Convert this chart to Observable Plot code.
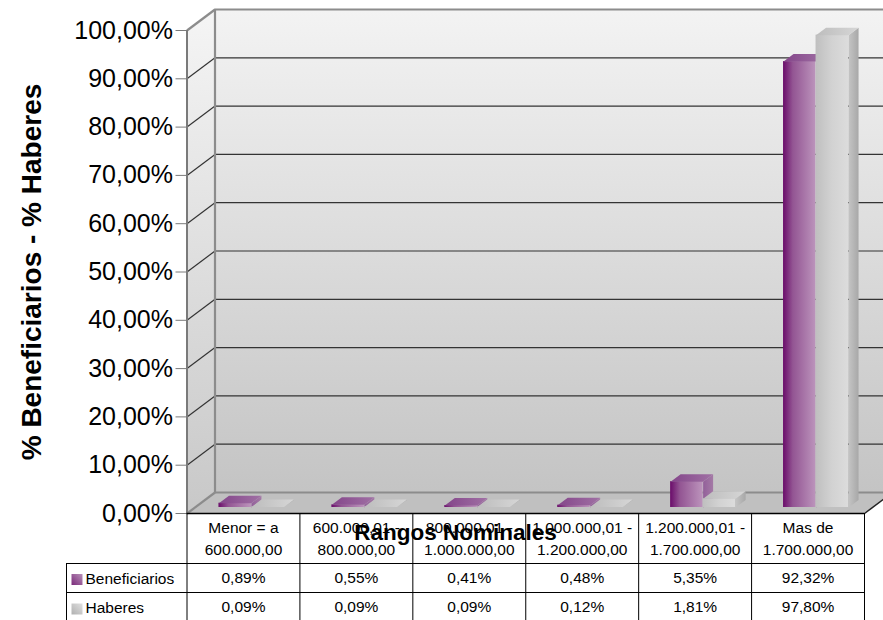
<!DOCTYPE html>
<html>
<head>
<meta charset="utf-8">
<script src="https://cdn.jsdelivr.net/npm/d3@7"></script>
<script src="https://cdn.jsdelivr.net/npm/@observablehq/plot@0.6"></script>
<style>
  html, body { margin: 0; padding: 0; background: #fff; overflow: hidden; }
  #chart svg { display: block; }
</style>
</head>
<body>
<div id="chart"></div>
<script>
// ---- data ----
const rangeLine1 = ["Menor = a", "600.000,01 -", "800.000,01 -", "1.000.000,01 -", "1.200.000,01 -", "Mas de"];
const rangeLine2 = ["600.000,00", "800.000,00", "1.000.000,00", "1.200.000,00", "1.700.000,00", "1.700.000,00"];
const beneficiarios = [0.89, 0.55, 0.41, 0.48, 5.35, 92.32];
const haberes = [0.09, 0.09, 0.09, 0.12, 1.81, 97.80];
const seriesNames = ["Beneficiarios", "Haberes"];
const yTicks = [0, 10, 20, 30, 40, 50, 60, 70, 80, 90, 100];
const xTitle = "Rangos Nominales";
const yTitle = "% Beneficiarios - % Haberes";

// ---- layout ----
const W = 883, H = 620, ML = 186.5, MR = 19, MT = 30, MB = 107;
const N = rangeLine1.length;
const PXX = (W - ML - MR) / N;       // px per category (for depth conversions)
const PXY = (H - MT - MB) / 100;     // px per percent
const WALL_DX = 28, WALL_DY = 21;    // 3D depth of walls, px
const DX = WALL_DX / PXX, DY = WALL_DY / PXY;
const BAR_W = 32.5 / PXX;
const CAP_X = 10 / PXX, CAP_Y = 7.5 / PXY;
const BAR_SHIFT_X = 8, BAR_SHIFT_Y = -6;
const LABEL_X = -(ML - 66) / PXX;
const yRow = px => -px / PXY;
const fmt = v => v.toFixed(2).replace(".", ",") + "%";
const TABLE_FS = 15.5;

const series = [beneficiarios, haberes];
const bars = series.flatMap((vals, si) => vals.map((v, i) => ({
  i, si, v,
  x1: i + 0.5 + (si - 1) * BAR_W,
  x2: i + 0.5 + si * BAR_W
})));
const topPoly = r => [
  {id: `t${r.si}-${r.i}`, x: r.x1, y: r.v},
  {id: `t${r.si}-${r.i}`, x: r.x2, y: r.v},
  {id: `t${r.si}-${r.i}`, x: r.x2 + CAP_X, y: r.v + CAP_Y},
  {id: `t${r.si}-${r.i}`, x: r.x1 + CAP_X, y: r.v + CAP_Y}
];
const sidePoly = r => [
  {id: `s${r.si}-${r.i}`, x: r.x2, y: 0},
  {id: `s${r.si}-${r.i}`, x: r.x2 + CAP_X, y: CAP_Y},
  {id: `s${r.si}-${r.i}`, x: r.x2 + CAP_X, y: r.v + CAP_Y},
  {id: `s${r.si}-${r.i}`, x: r.x2, y: r.v}
];
const leftWall = [
  {id: "lw", x: 0, y: 0}, {id: "lw", x: 0, y: 100},
  {id: "lw", x: DX, y: 100 + DY}, {id: "lw", x: DX, y: DY}
];
const floor = [
  {id: "fl", x: 0, y: 0}, {id: "fl", x: N, y: 0},
  {id: "fl", x: N + DX, y: DY}, {id: "fl", x: DX, y: DY}
];

const fills = [
  {front: "url(#gPurple)", side: "url(#gPurpleSide)", top: "url(#gPurpleTop)"},
  {front: "url(#gGrey)", side: "url(#gGreySide)", top: "url(#gGreyTop)"}
];

function defsMark() {
  const g = document.createElementNS("http://www.w3.org/2000/svg", "g");
  g.innerHTML = `<defs>
    <linearGradient id="gPurple" x1="0" x2="1" y1="0" y2="0">
      <stop offset="0" stop-color="#6a0c6a"/><stop offset="0.3" stop-color="#935593"/><stop offset="1" stop-color="#bc94bc"/>
    </linearGradient>
    <linearGradient id="gPurpleSide" x1="0" x2="1" y1="0" y2="0">
      <stop offset="0" stop-color="#93609a"/><stop offset="1" stop-color="#a47aa6"/>
    </linearGradient>
    <linearGradient id="gPurpleTop" x1="0" x2="1" y1="0" y2="0">
      <stop offset="0" stop-color="#84468a"/><stop offset="1" stop-color="#a070a4"/>
    </linearGradient>
    <linearGradient id="gGrey" x1="0" x2="1" y1="0" y2="0">
      <stop offset="0" stop-color="#bfbfbf"/><stop offset="0.5" stop-color="#d2d2d2"/><stop offset="1" stop-color="#dcdcdc"/>
    </linearGradient>
    <linearGradient id="gGreySide" x1="0" x2="1" y1="0" y2="0">
      <stop offset="0" stop-color="#c4c4c4"/><stop offset="1" stop-color="#a8a8a8"/>
    </linearGradient>
    <linearGradient id="gGreyTop" x1="0" x2="1" y1="0" y2="0">
      <stop offset="0" stop-color="#bdbdbd"/><stop offset="1" stop-color="#d6d6d6"/>
    </linearGradient>
    <linearGradient id="gWall" x1="0" x2="0" y1="0" y2="1">
      <stop offset="0" stop-color="#f3f3f3"/><stop offset="1" stop-color="#c4c4c4"/>
    </linearGradient>
    <linearGradient id="gLeft" x1="0" x2="0" y1="0" y2="1">
      <stop offset="0" stop-color="#f5f5f5"/><stop offset="1" stop-color="#c8c8c8"/>
    </linearGradient>
    <linearGradient id="gSwPurple" x1="0" x2="1" y1="1" y2="0">
      <stop offset="0" stop-color="#7a2a7a"/><stop offset="1" stop-color="#b890b8"/>
    </linearGradient>
    <linearGradient id="gSwGrey" x1="0" x2="1" y1="1" y2="0">
      <stop offset="0" stop-color="#b0b0b0"/><stop offset="1" stop-color="#e0e0e0"/>
    </linearGradient>
  </defs>`;
  return g;
}

const barMarks = [0, 1].flatMap(si => {
  const rs = bars.filter(r => r.si === si);
  return [
    Plot.rect(rs, {x1: "x1", x2: "x2", y1: 0, y2: "v", dx: BAR_SHIFT_X, dy: BAR_SHIFT_Y, fill: fills[si].front}),
    Plot.line(rs.flatMap(sidePoly), {x: "x", y: "y", z: "id", dx: BAR_SHIFT_X, dy: BAR_SHIFT_Y, fill: fills[si].side, stroke: "none"}),
    Plot.line(rs.flatMap(topPoly), {x: "x", y: "y", z: "id", dx: BAR_SHIFT_X, dy: BAR_SHIFT_Y, fill: fills[si].top, stroke: "none"})
  ];
});

const gridVals = yTicks.filter(t => t > 0 && t < 100);

const chart = Plot.plot({
  width: W, height: H,
  marginLeft: ML, marginRight: MR, marginTop: MT, marginBottom: MB,
  style: {fontFamily: "'Liberation Sans', Arial, sans-serif", background: "#fff", overflow: "visible"},
  x: {type: "linear", domain: [0, N], axis: null},
  y: {type: "linear", domain: [0, 100], axis: null},
  marks: [
    defsMark,
    // back wall
    Plot.rect([0], {x1: 0, x2: N, y1: 0, y2: 100, dx: WALL_DX, dy: -WALL_DY, fill: "url(#gWall)"}),
    // left wall and floor
    Plot.line(leftWall, {x: "x", y: "y", z: "id", fill: "url(#gLeft)", stroke: "none"}),
    Plot.line(floor, {x: "x", y: "y", z: "id", fill: "#c0c0c0", stroke: "none"}),
    // gridlines on back wall
    Plot.ruleY(gridVals, {x1: 0, x2: N, dx: WALL_DX, dy: -WALL_DY, stroke: "#333", strokeWidth: 1.2}),
    // diagonals on left wall
    Plot.link(gridVals, {x1: 0, y1: d => d, x2: DX, y2: d => d + DY, stroke: "#333", strokeWidth: 1.2}),
    // wall edges
    Plot.ruleY([100], {x1: 0, x2: N, dx: WALL_DX, dy: -WALL_DY, stroke: "#8c8c8c", strokeWidth: 2.2}),
    Plot.ruleY([0], {x1: 0, x2: N, dx: WALL_DX, dy: -WALL_DY, stroke: "#8c8c8c", strokeWidth: 2.2}),
    Plot.ruleX([0], {y1: 0, y2: 100, dx: WALL_DX, dy: -WALL_DY, stroke: "#8c8c8c", strokeWidth: 2.2}),
    Plot.link([100, 0], {x1: 0, y1: d => d, x2: DX, y2: d => d + DY, stroke: "#8c8c8c", strokeWidth: 2.2}),
    Plot.link([0], {x1: N, y1: 0, x2: N + DX, y2: DY, stroke: "#222", strokeWidth: 1.5}),
    // front axis
    Plot.ruleX([0], {y1: 0, y2: 100, stroke: "#7a7a7a", strokeWidth: 2}),
    Plot.axisY({ticks: yTicks, tickFormat: fmt, tickSize: 11, tickPadding: 3, fontSize: 25, stroke: "#7a7a7a", fill: "#000", label: null}),
    // bars
    ...barMarks,
    // data table
    Plot.ruleY([0], {x1: 0, x2: N, stroke: "#000", strokeWidth: 1.5}),
    Plot.ruleX(d3.range(N + 1), {y1: 0, y2: yRow(MB), stroke: "#000", strokeWidth: 1}),
    Plot.ruleX([LABEL_X], {y1: yRow(50), y2: yRow(MB), stroke: "#000", strokeWidth: 1}),
    Plot.ruleY([yRow(50), yRow(79)], {x1: LABEL_X, x2: N, stroke: "#000", strokeWidth: 1}),
    Plot.text(rangeLine1, {x: (d, i) => i + 0.5, frameAnchor: "bottom", dy: 19.5, lineAnchor: "bottom", fontSize: TABLE_FS, fill: "#000"}),
    Plot.text(rangeLine2, {x: (d, i) => i + 0.5, frameAnchor: "bottom", dy: 41.5, lineAnchor: "bottom", fontSize: TABLE_FS, fill: "#000"}),
    Plot.text(beneficiarios, {x: (d, i) => i + 0.5, frameAnchor: "bottom", dy: 69.5, lineAnchor: "bottom", fontSize: TABLE_FS, fill: "#000", text: fmt}),
    Plot.text(haberes, {x: (d, i) => i + 0.5, frameAnchor: "bottom", dy: 98.5, lineAnchor: "bottom", fontSize: TABLE_FS, fill: "#000", text: fmt}),
    Plot.dot([seriesNames[0]], {frameAnchor: "bottom-left", dx: 76.5 - ML, dy: 66, symbol: "square", r: 6.2, fill: "url(#gSwPurple)", stroke: "none"}),
    Plot.dot([seriesNames[1]], {frameAnchor: "bottom-left", dx: 76.5 - ML, dy: 95.5, symbol: "square", r: 6.2, fill: "url(#gSwGrey)", stroke: "none"}),
    Plot.text([seriesNames[0]], {frameAnchor: "bottom-left", dx: 85 - ML, dy: 70, textAnchor: "start", lineAnchor: "bottom", fontSize: TABLE_FS, fill: "#000"}),
    Plot.text([seriesNames[1]], {frameAnchor: "bottom-left", dx: 85 - ML, dy: 99, textAnchor: "start", lineAnchor: "bottom", fontSize: TABLE_FS, fill: "#000"}),
    // axis titles
    Plot.text([xTitle], {frameAnchor: "bottom-left", dx: 455 - ML, dy: 26, textAnchor: "middle", lineAnchor: "bottom", fontSize: 22.5, fontWeight: "bold", fill: "#000"}),
    Plot.text([yTitle], {frameAnchor: "left", dx: 32 - ML, textAnchor: "middle", lineAnchor: "middle", rotate: -90, fontSize: 28, fontWeight: "bold", fill: "#000"})
  ]
});
document.getElementById("chart").appendChild(chart);
</script>
</body>
</html>
